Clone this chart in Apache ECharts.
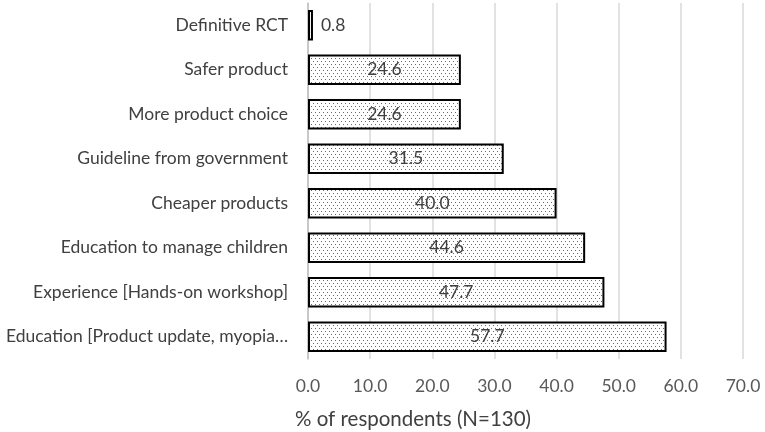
<!DOCTYPE html>
<html><head><meta charset="utf-8">
<script src="https://cdn.jsdelivr.net/npm/echarts@6/dist/echarts.min.js"></script>
<style>html,body{margin:0;padding:0;background:#fff}#c{width:765px;height:432px}</style>
</head><body><div id="c"></div>
<script>
const categories = [
  "Definitive RCT",
  "Safer product",
  "More product choice",
  "Guideline from government",
  "Cheaper products",
  "Education to manage children",
  "Experience [Hands-on workshop]",
  "Education [Product update, myopia\u2026"
];
const values = [0.8, 24.6, 24.6, 31.5, 40.0, 44.6, 47.7, 57.7];
const xTicks = [0, 10, 20, 30, 40, 50, 60, 70];

function makePattern() {
  const c = document.createElement('canvas');
  c.width = 8; c.height = 6;
  const g = c.getContext('2d');
  g.fillStyle = '#ffffff';
  g.fillRect(0, 0, 8, 6);
  g.fillStyle = '#6a6a6a';
  [[1,1],[5,1],[3,4],[7,4]].forEach(p => g.fillRect(p[0], p[1], 1, 1));
  return c;
}
const pattern = { image: makePattern(), repeat: 'repeat' };

const chart = echarts.init(document.getElementById('c'), null, { renderer: 'canvas' });
const FONT = 'Lato, "Open Sans", sans-serif';
chart.setOption({
  animation: false,
  title: {
    text: '% of respondents (N=130)',
    left: 290, top: 404,
    textStyle: { fontSize: 20.5, fontWeight: 'normal', color: '#404040', fontFamily: FONT }
  },
  grid: { left: 308, right: 22, top: 3, bottom: 73, containLabel: false, outerBoundsMode: 'none' },
  xAxis: {
    type: 'value',
    min: xTicks[0], max: xTicks[xTicks.length - 1], interval: 10,
    axisLine: { show: false },
    axisTick: { show: false },
    splitLine: { lineStyle: { color: '#d9d9d9', width: 1.5 } },
    axisLabel: { margin: 18, fontSize: 17.5, color: '#595959', fontFamily: FONT,
      formatter: v => v.toFixed(1) }
  },
  yAxis: {
    type: 'category',
    inverse: true,
    data: categories,
    axisLine: { show: true, lineStyle: { color: '#bfbfbf', width: 1.5 } },
    axisTick: { show: false },
    axisLabel: { margin: 20, fontSize: 17.5, color: '#404040', fontFamily: FONT }
  },
  series: [{
    type: 'bar',
    barCategoryGap: '32%',
    data: values.map(v => ({
      value: v,
      label: v < 5 ? { position: 'right', distance: 8 } : undefined
    })),
    itemStyle: { color: pattern, borderColor: '#000', borderWidth: 2 },
    label: {
      show: true, position: 'inside', fontSize: 17.5, color: '#404040', fontFamily: FONT,
      formatter: p => Number(p.value).toFixed(1)
    }
  }]
});
</script>
</body></html>
